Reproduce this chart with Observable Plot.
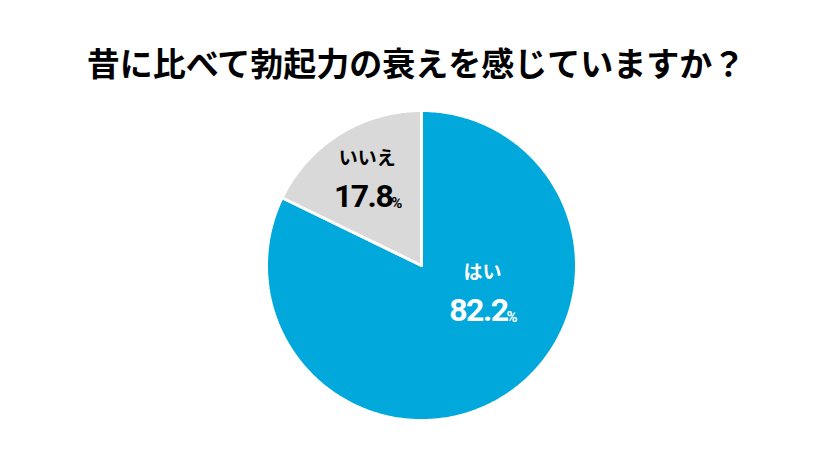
<!DOCTYPE html>
<html><head><meta charset="utf-8">
<script src="https://cdn.jsdelivr.net/npm/d3@7"></script>
<script src="https://cdn.jsdelivr.net/npm/@observablehq/plot@0.6"></script>
<style>
body{margin:0;background:#fff;width:840px;height:473px;overflow:hidden;font-family:"Noto Sans CJK JP",sans-serif;}
#title{height:100px;text-align:center;font-size:33px;font-weight:bold;color:#000;padding-right:8px;box-sizing:border-box;}
#title span{display:inline-block;line-height:1;margin-top:46px;}
#chart g[font-size="32"]{letter-spacing:-1.5px;}
</style></head>
<body>
<div id="title"><span>昔に比べて勃起力の衰えを感じていますか？</span></div>
<div id="chart"></div>
<script>
const categories = ["はい", "いいえ"];
const values = [82.2, 17.8];
const colors = ["#00a8db", "#d9d9d9"];
const textColors = ["#ffffff", "#000000"];
// label anchor in data units (unit circle)
const labelX = [0.394, -0.35];
const labelY = [-0.045, 0.69];

const data = categories.map((c, i) => ({category: c, value: values[i]}));
const arcs = d3.pie().sort(null).value(d => d.value)(data);

const poly = [];
arcs.forEach(a => {
  const c = a.data.category;
  poly.push({category: c, x: 0, y: 0});
  const n = Math.max(2, Math.ceil((a.endAngle - a.startAngle) / 0.01));
  for (let k = 0; k <= n; k++) {
    const t = a.startAngle + (a.endAngle - a.startAngle) * k / n;
    poly.push({category: c, x: Math.sin(t), y: Math.cos(t)});
  }
  poly.push({category: c, x: 0, y: 0});
});

const labels = data.map((d, i) => ({
  category: d.category, x: labelX[i], y: labelY[i],
  pct: d.value.toFixed(1), color: textColors[i]
}));

const numFont = "Roboto, sans-serif";
const cx = 421, cy = 165, r = 155;
const chart = Plot.plot({
  width: 840, height: 373,
  margin: 0,
  x: {domain: [-1, 1], range: [cx - r, cx + r], axis: null},
  y: {domain: [-1, 1], range: [cy + r, cy - r], axis: null},
  color: {domain: categories, range: colors},
  style: {fontFamily: "'Noto Sans CJK JP', sans-serif", background: "#fff"},
  marks: [
    Plot.line(poly, {x: "x", y: "y", z: "category", fill: "category", stroke: "#fff", strokeWidth: 3, strokeLinejoin: "miter"}),
    Plot.text(labels, {x: "x", y: "y", text: "category", fill: "color", fontSize: 19, fontWeight: "bold"}),
    Plot.text(labels, {x: "x", y: "y", text: "pct", fill: "color", fontSize: 32, fontWeight: "bold", textAnchor: "end", dx: 25, dy: 38, fontFamily: numFont}),
    Plot.text(labels, {x: "x", y: "y", text: d => "%", fill: "color", fontSize: 15, fontWeight: "bold", textAnchor: "start", dx: 24, dy: 45, fontFamily: numFont})
  ]
});
document.getElementById("chart").appendChild(chart);
</script>
</body></html>
